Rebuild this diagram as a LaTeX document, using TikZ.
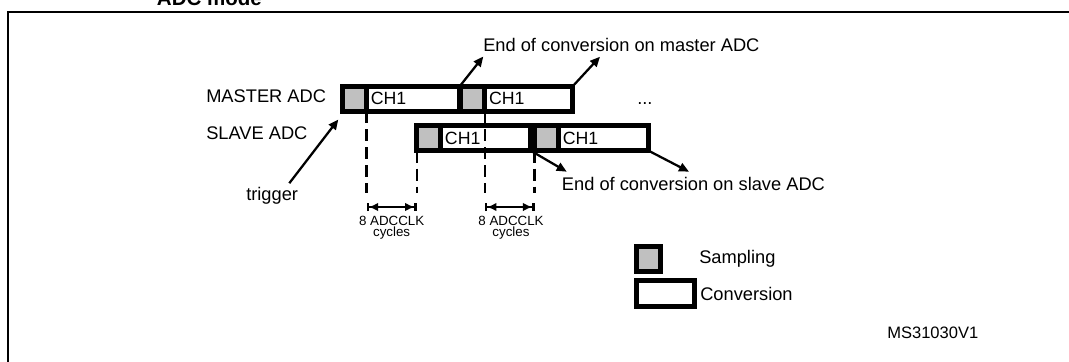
\documentclass[tikz,border=0pt]{standalone}
\usepackage{fontspec}
\setmainfont{Liberation Sans}
\usetikzlibrary{arrows.meta,positioning}
\definecolor{sampgray}{RGB}{192,192,192}

\begin{document}
\begin{tikzpicture}[x=0.75pt, y=-0.75pt,
    samp/.style={rectangle, draw, line width=3.7pt, fill=sampgray, minimum width=18pt, minimum height=19pt, inner sep=0pt, outer sep=0pt},
    conv/.style={rectangle, draw, line width=3.7pt, fill=white, minimum width=67.5pt, minimum height=19pt, inner sep=0pt, outer sep=0pt},
    chtext/.style={font=\fontsize{13.3}{16}\selectfont, inner sep=0pt},
    txt/.style={font=\fontsize{13.7}{16}\selectfont, inner sep=0pt, anchor=base west},
    cyc/.style={font=\fontsize{10}{8.8}\selectfont, align=center, inner sep=0pt, anchor=north},
    arr/.style={-{Triangle[length=7.5pt, width=6.5pt]}, line width=1.7pt},
    guide/.style={line width=1.8pt, dash pattern=on 9pt off 4.5pt},
    cycspan/.style={{Bar[width=6pt]Latex[length=7pt, width=6.5pt]}-{Latex[length=7pt, width=6.5pt]Bar[width=6pt]}, line width=1.7pt},
]
\useasboundingbox (0,0) rectangle (1069,361);
\clip (0,0) rectangle (1069,361);

% Frame and title
\draw[line width=1.5pt] (8,12) rectangle (1090,380);
\node[font=\bfseries\fontsize{15.4}{18}\selectfont, inner sep=0pt, anchor=base west] (title) at (156.7,5) {ADC mode};

% Row labels
\node[txt] (mlab) at (206,102.3) {MASTER ADC};
\node[txt] (slab) at (206,139.5) {SLAVE ADC};

% Master ADC
\node[samp, anchor=west] (m1s) at (342.5,98.8) {};
\node[conv, minimum width=70pt, right=0pt of m1s] (m1c) {};
\node[chtext, right=3pt of m1s.east] (m1t) {CH1};
\node[samp, right=0.75pt of m1c] (m2s) {};
\node[conv, minimum width=66pt, right=0pt of m2s] (m2c) {};
\node[chtext, right=3pt of m2s.east] (m2t) {CH1};
\node[txt] (dots) at (637,104) {...};

% Slave ADC
\node[samp, anchor=west] (s1s) at (416.7,138) {};
\node[conv, right=0pt of s1s] (s1c) {};
\node[chtext, right=3pt of s1s.east] (s1t) {CH1};
\node[samp, right=2.85pt of s1c] (s2s) {};
\node[conv, right=0pt of s2s] (s2c) {};
\node[chtext, right=3pt of s2s.east] (s2t) {CH1};

% Delay marks
\coordinate (cy) at (0,193);
\coordinate (ar) at (0,207);
\draw[guide] (m1s.south east) -- (m1s.south east |- cy);
\draw[guide] (s1s.south west) -- (s1s.south west |- cy);
\draw[guide] (m2s.south east) -- (m2s.south east |- cy);
\draw[guide] (s2s.south west) -- (s2s.south west |- cy);
\draw[cycspan] (m1s.south east |- ar) -- (s1s.south west |- ar);
\draw[cycspan] (m2s.south east |- ar) -- (s2s.south west |- ar);
\node[cyc] (cyc1) at (391.6,215.5) {8 ADCCLK\\cycles};
\node[cyc] (cyc2) at (511,215.5) {8 ADCCLK\\cycles};

% Trigger
\node[txt] (trig) at (246,200.7) {trigger};
\coordinate (trigtip) at (338.3,119.5);
\draw[arr] ([shift={(-9,-4)}]trig.north east) -- (trigtip);

% End of conversion
\node[txt] (eom) at (483,51.7) {End of conversion on master ADC};
\coordinate (em1) at (483.3,56.5);
\coordinate (em2) at (600,56.7);
\draw[arr] (m1c.north east) -- (em1);
\draw[arr] (m2c.north east) -- (em2);
\node[txt] (eos) at (561.7,190.7) {End of conversion on slave ADC};
\coordinate (es1) at (566.7,171.7);
\coordinate (es2) at (689,171.7);
\draw[arr] (s1c.south east) -- (es1);
\draw[arr] (s2c.south east) -- (es2);

% Legend
\node[samp, minimum width=18.2pt, minimum height=18.9pt] (lgs) at (648.5,259) {};
\node[conv, minimum width=43.7pt, minimum height=19.6pt] (lgc) at (665.5,293.5) {};
\node[txt] (lgst) at (699,263.3) {Sampling};
\node[txt] (lgct) at (700,300) {Conversion};
\node[txt, font=\fontsize{12.4}{15}\selectfont] (ref) at (887,338.3) {MS31030V1};

\end{tikzpicture}
\end{document}
